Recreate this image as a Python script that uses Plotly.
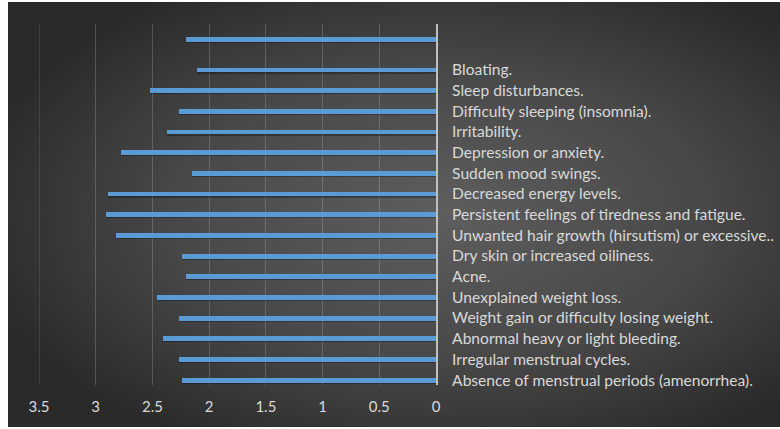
import base64
import plotly.graph_objects as go

# Symptom list, top to bottom; the first bar carries no label
symptoms = [
    " ",
    "Bloating.",
    "Sleep disturbances.",
    "Difficulty sleeping (insomnia).",
    "Irritability.",
    "Depression or anxiety.",
    "Sudden mood swings.",
    "Decreased energy levels.",
    "Persistent feelings of tiredness and fatigue.",
    "Unwanted hair growth (hirsutism) or excessive..",
    "Dry skin or increased oiliness.",
    "Acne.",
    "Unexplained weight loss.",
    "Weight gain or difficulty losing weight.",
    "Abnormal heavy or light bleeding.",
    "Irregular menstrual cycles.",
    "Absence of menstrual periods (amenorrhea).",
]
scores = [2.20, 2.11, 2.52, 2.27, 2.37, 2.78, 2.15, 2.89, 2.91, 2.82,
          2.24, 2.20, 2.46, 2.27, 2.41, 2.27, 2.24]
x_ticks = [3.5, 3, 2.5, 2, 1.5, 1, 0.5, 0]

BAR = "#5B9BD5"
SHADOW = "rgba(0,0,0,0.3)"
TEXT = "#D9D9D9"
GRID = "rgba(217,217,217,0.22)"
FONT = "Lato"
BAR_W = 0.24
TOP_SHIFT = -0.49  # the unlabeled top bar sits half a slot higher

fig = go.Figure()


def add_bars(names, vals, shift):
    # soft drop shadow, then the bar itself
    fig.add_trace(go.Bar(
        y=names, x=vals, orientation="h", width=BAR_W,
        offset=shift - BAR_W / 2 + 0.06,
        marker=dict(color=SHADOW, line=dict(width=0)),
        hoverinfo="skip", showlegend=False,
    ))
    fig.add_trace(go.Bar(
        y=names, x=vals, orientation="h", width=BAR_W,
        offset=shift - BAR_W / 2,
        marker=dict(color=BAR, line=dict(width=0)),
        hoverinfo="skip", showlegend=False,
    ))


add_bars(symptoms[:1], scores[:1], TOP_SHIFT)
add_bars(symptoms[1:], scores[1:], 0.0)

# gridline on the far (left) edge of the value axis
fig.add_shape(type="line", xref="x", yref="paper",
              x0=max(x_ticks), x1=max(x_ticks), y0=0, y1=1,
              line=dict(color=GRID, width=1), layer="below")

# dark radial backdrop
svg = (
    "<svg xmlns='http://www.w3.org/2000/svg' width='772' height='425' "
    "viewBox='0 0 772 425' preserveAspectRatio='none'>"
    "<defs><radialGradient id='g' cx='0.56' cy='0.5' r='0.62'>"
    "<stop offset='0' stop-color='#5e5e5e'/>"
    "<stop offset='0.55' stop-color='#484848'/>"
    "<stop offset='1' stop-color='#2a2a2a'/>"
    "</radialGradient></defs>"
    "<rect width='772' height='425' fill='url(#g)'/></svg>"
)
src = "data:image/svg+xml;base64," + base64.b64encode(svg.encode()).decode()

L, R, T, B = 39, 344, 24, 44
W, H = 780, 429
pw, ph = W - L - R, H - T - B

fig.update_layout(
    width=W, height=H,
    margin=dict(l=L, r=R, t=T, b=B, pad=0, autoexpand=False),
    paper_bgcolor="white",
    plot_bgcolor="rgba(0,0,0,0)",
    barmode="overlay",
    bargap=0,
    font=dict(family=FONT, color=TEXT, size=15),
    images=[dict(
        source=src, xref="paper", yref="paper",
        x=(8 - L) / pw, y=(H - B - 2) / ph,
        sizex=(W - 8) / pw, sizey=(H - 4) / ph,
        xanchor="left", yanchor="top",
        sizing="stretch", layer="below",
    )],
    xaxis=dict(
        range=[3.5, 0],
        tickvals=x_ticks,
        ticktext=[f"{v:g}" for v in x_ticks],
        showgrid=True, gridcolor=GRID, gridwidth=1,
        zeroline=False, showline=False, ticks="",
        tickfont=dict(family=FONT, size=15, color=TEXT),
        ticklabelstandoff=11,
        automargin=False,
        fixedrange=True,
    ),
    yaxis=dict(
        type="category",
        categoryorder="array", categoryarray=symptoms,
        range=[16.24, -1.225],
        side="right",
        showgrid=False, zeroline=False,
        showline=True, linecolor="#BFBFBF", linewidth=2,
        ticks="",
        tickfont=dict(family=FONT, size=15.6, color=TEXT),
        ticklabelstandoff=11,
        automargin=False,
        fixedrange=True,
    ),
)

fig.write_html("out.html")
